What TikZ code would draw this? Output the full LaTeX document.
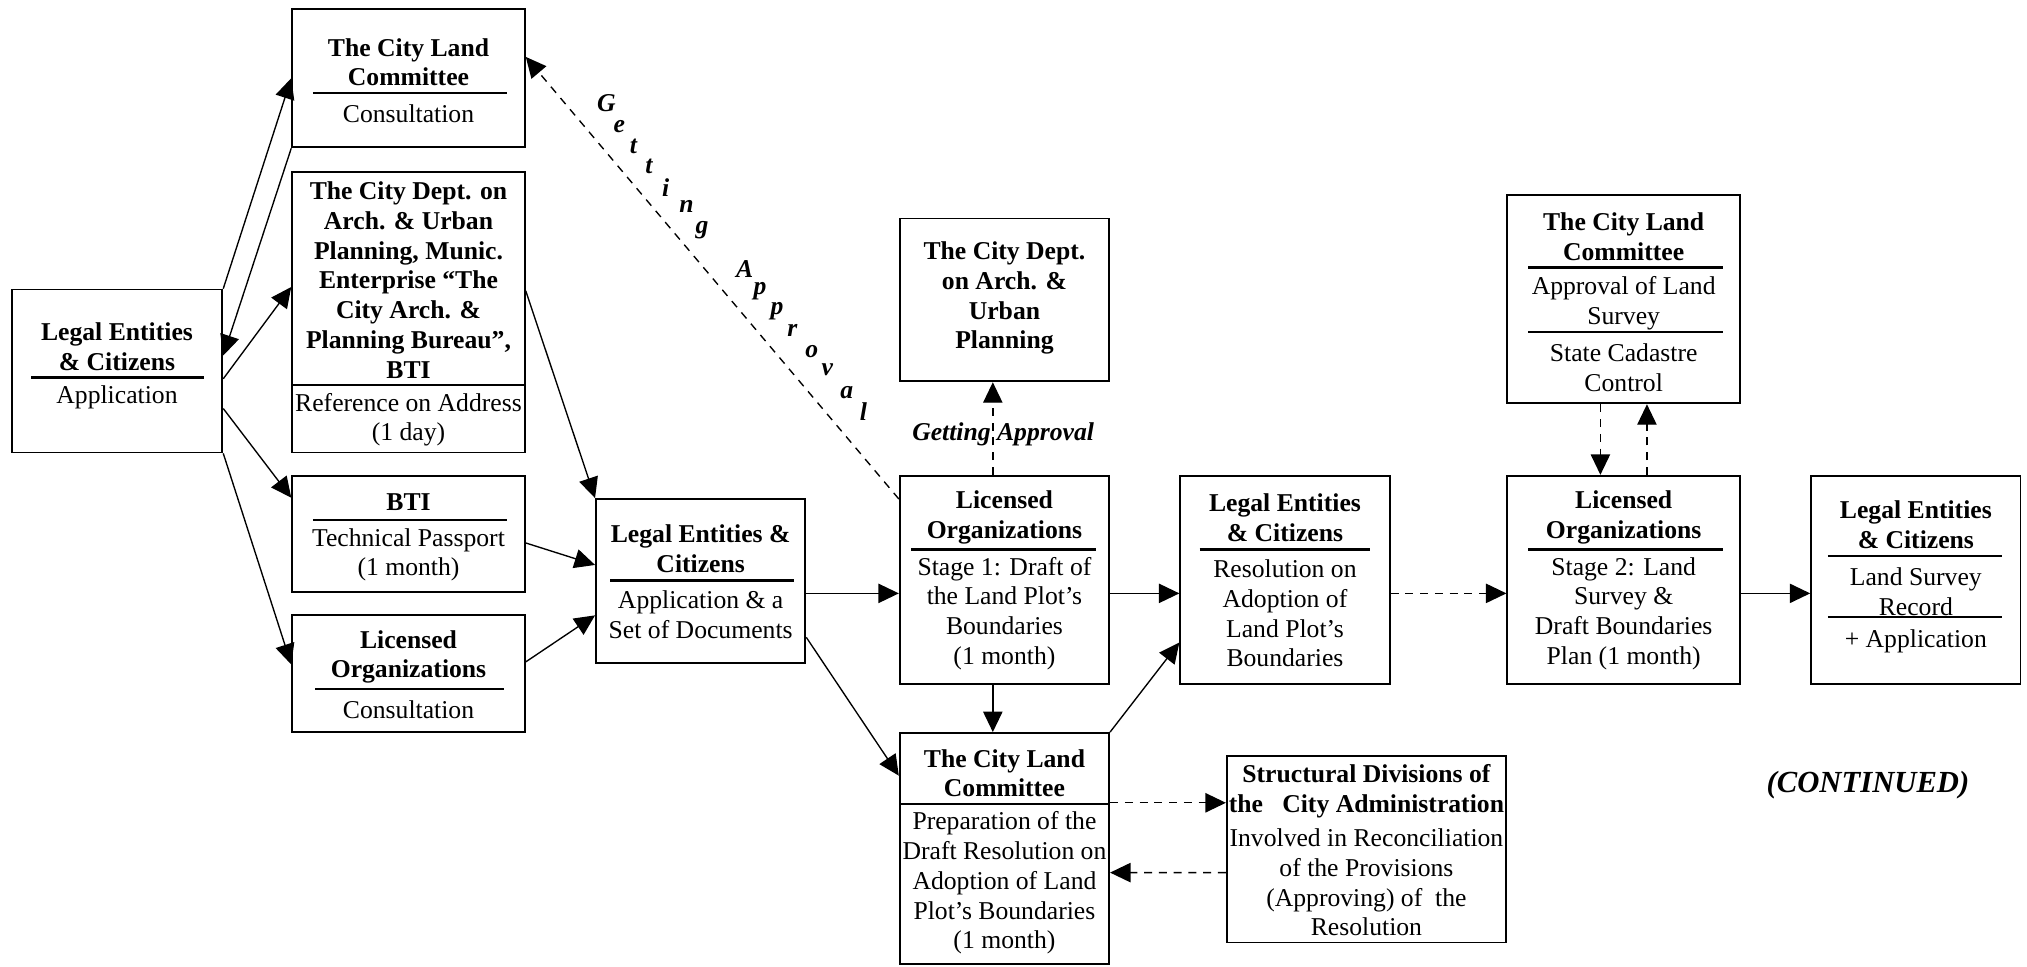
\documentclass[tikz,border=0pt]{standalone}
\usepackage{fontspec}
\setmainfont{Liberation Serif}
\usetikzlibrary{arrows.meta,calc}
\newcommand\fs{\fontsize{11.3}{13.1}\selectfont}
\newcommand\mkbox[5]{\node[box, minimum width={(#4-#2)*0.02cm}, minimum height={(#5-#3)*0.02cm}] (#1) at ({(#2+#4)/2},{(#3+#5)/2}) {};}
\newcommand\dv[3]{\draw[divline] (#1,#3) -- (#2,#3);}
\tikzset{
  box/.style={draw, line width=0.8pt, inner sep=0pt},
  txt/.style={align=center, inner sep=0pt, font=\fs, yshift=-1.2pt},
  hd/.style={align=center, inner sep=0pt, font=\fs\bfseries, yshift=0.2pt},
  lab/.style={align=center, inner sep=0pt, font=\fs\bfseries\itshape},
  divline/.style={line width=1pt},
  arr/.style={-{Triangle[length=9pt,width=8.5pt]}, line width=0.6pt},
  darr/.style={arr, dash pattern=on 3.5pt off 3pt},
}
\begin{document}
\begin{tikzpicture}[x=0.02cm, y=-0.02cm]
\useasboundingbox (0,0) rectangle (1568,748);

% boxes
\mkbox{A}{9}{224}{172}{350}
\mkbox{B}{226}{7}{406}{114}
\mkbox{C}{226}{133}{406}{350}
\mkbox{D}{226}{368}{406}{458}
\mkbox{E}{226}{476}{406}{566}
\mkbox{F}{461}{386}{623}{513}
\mkbox{G}{696}{368}{858}{529}
\mkbox{H}{696}{169}{858}{295}
\mkbox{I}{696}{567}{858}{746}
\mkbox{J}{913}{368}{1075}{529}
\mkbox{K}{949}{585}{1165}{729}
\mkbox{L}{1166}{151}{1346}{312}
\mkbox{M}{1166}{368}{1346}{529}
\mkbox{N}{1401}{368}{1563}{529}

% texts
\node[hd] (A-h) at (90.5,268.5) {Legal Entities\\\& Citizens};
\dv{24}{158}{292}
\node[txt] (A-b) at (90.5,305) {Application};

\node[hd] (B-h) at (316,48.5) {The City Land\\Committee};
\dv{242}{392}{72}
\node[txt] (B-b) at (316,86) {Consultation};

\node[hd] (C-h) at (316,217) {The City Dept. on\\Arch. \& Urban\\Planning, Munic.\\Enterprise “The\\City Arch. \&\\Planning Bureau”,\\BTI};
\dv{226}{406}{298}
\node[txt] (C-b) at (316,322.5) {Reference on Address\\(1 day)};

\node[hd] (D-h) at (316,389) {BTI};
\dv{242}{392}{402}
\node[txt] (D-b) at (316,427) {Technical Passport\\(1 month)};

\node[hd] (E-h) at (316,508.5) {Licensed\\Organizations};
\dv{244}{390}{533}
\node[txt] (E-b) at (316,547) {Consultation};

\node[hd] (F-h) at (542,425) {Legal Entities \&\\Citizens};
\dv{472}{614}{449}
\node[txt] (F-b) at (542,473.5) {Application \& a\\Set of Documents};

\node[hd] (G-h) at (777,400.5) {Licensed\\Organizations};
\dv{705}{848}{425}
\node[txt] (G-b) at (777,472.5) {Stage 1: Draft of\\the Land Plot’s\\Boundaries\\(1 month)};

\node[hd] (H-h) at (777,231) {The City Dept.\\on Arch. \&\\Urban\\Planning};

\node[hd] (I-h) at (777,598.5) {The City Land\\Committee};
\dv{696}{858}{622}
\node[txt] (I-b) at (777,681) {Preparation of the\\Draft Resolution on\\Adoption of Land\\Plot’s Boundaries\\(1 month)};

\node[hd] (J-h) at (994,401) {Legal Entities\\\& Citizens};
\dv{928}{1060}{425}
\node[txt] (J-b) at (994,472.5) {Resolution on\\Adoption of\\Land Plot’s\\Boundaries};

\node[hd] (K-h) at (1057,612.5) {Structural Divisions of\\the\ \ \ City Administration};
\node[txt] (K-b) at (1057,680.5) {Involved in Reconciliation\\of the Provisions\\(Approving) of\ \ the\\Resolution};

\node[hd] (L-h) at (1256,183.5) {The City Land\\Committee};
\dv{1182}{1333}{207}
\node[txt] (L-b1) at (1256,232.5) {Approval of Land\\Survey};
\dv{1182}{1333}{257}
\node[txt] (L-b2) at (1256,282.5) {State Cadastre\\Control};

\node[hd] (M-h) at (1256,400.5) {Licensed\\Organizations};
\dv{1182}{1333}{425}
\node[txt] (M-b) at (1256,472.5) {Stage 2: Land\\Survey \&\\Draft Boundaries\\Plan (1 month)};

\node[hd] (N-h) at (1482,406.5) {Legal Entities\\\& Citizens};
\dv{1414}{1549}{430}
\node[txt] (N-b1) at (1482,455.5) {Land Survey\\Record};
\dv{1414}{1549}{477}
\node[txt] (N-b2) at (1482,494) {+ Application};

\node[lab, yshift=-1.2pt] (ga) at (776,334) {Getting Approval};
\node[lab, font=\fontsize{13.5}{15}\selectfont\bfseries\itshape] (cont) at (1445,607) {(CONTINUED)};

\foreach \c/\x/\y [count=\i] in {G/469/80, e/479/98, t/490/113, t/502/129, i/515/145, n/531/160, g/543/178, A/576/208, p/588/225, p/601/241, r/613/256, o/628/272, v/640/286, a/655/304, l/668/318}
  \node[lab] (gl\i) at (\x,\y) {\c};

% connectors
\draw[arr] (A.north east) -- (B.west);
\draw[arr] (B.south west) -- ($(A.east)+(0,-12)$);
\draw[arr] ($(A.east)+(0,6)$) -- ($(C.west)+(0,-19.5)$);
\draw[arr] ($(A.east)+(0,29)$) -- ($(D.west)+(0,-28)$);
\draw[arr] (A.south east) -- ($(E.west)+(0,-7)$);
\draw[arr] ($(C.east)+(0,-16.5)$) -- (F.north west);
\draw[arr] ($(D.east)+(0,7)$) -- ($(F.west)+(0,-12.5)$);
\draw[arr] ($(E.east)+(0,-9)$) -- ($(F.west)+(0,26.5)$);
\draw[arr] ($(F.east)+(0,9.5)$) -- ($(G.west)+(0,10.5)$);
\draw[arr] ($(F.east)+(0,43.5)$) -- ($(I.west)+(0,-56.5)$);
\draw[darr] ($(G.west)+(0,-62.5)$) -- ($(B.east)+(0,-16.5)$);
\draw[darr] ($(G.north)+(-9,0)$) -- ($(H.south)+(-9,0)$);
\draw[arr] ($(G.south)+(-9,0)$) -- ($(I.north)+(-9,0)$);
\draw[arr] ($(G.east)+(0,10.5)$) -- ($(J.west)+(0,10.5)$);
\draw[arr] (I.north east) -- ($(J.west)+(0,48.5)$);
\draw[darr] ($(I.east)+(0,-35.5)$) -- ($(K.west)+(0,-36)$);
\draw[darr] ($(K.west)+(0,18)$) -- ($(I.east)+(0,18.5)$);
\draw[darr] ($(J.east)+(0,10.5)$) -- ($(M.west)+(0,10.5)$);
\draw[darr] ($(L.south)+(-18,0)$) -- ($(M.north)+(-18,0)$);
\draw[darr] ($(M.north)+(18,0)$) -- ($(L.south)+(18,0)$);
\draw[arr] ($(M.east)+(0,10.5)$) -- ($(N.west)+(0,10.5)$);
\end{tikzpicture}
\end{document}
